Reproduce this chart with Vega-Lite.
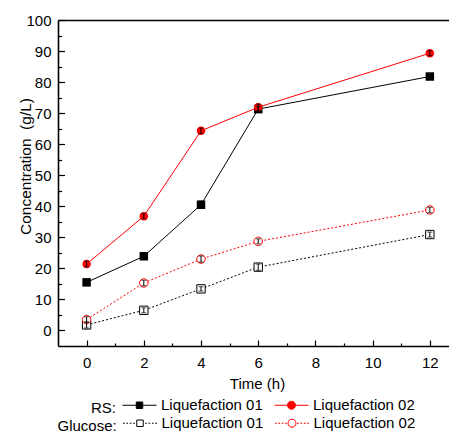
{
  "$schema": "https://vega.github.io/schema/vega-lite/v6.json",
  "width": 391,
  "height": 326,
  "autosize": "none",
  "padding": {"left": 58, "top": 20, "right": 0, "bottom": 86},
  "background": "white",
  "config": {
    "view": {"stroke": null},
    "font": "Liberation Sans",
    "axis": {"grid": false, "domainColor": "black", "tickColor": "black", "labelColor": "black", "titleColor": "black", "labelFont": "Liberation Sans", "titleFont": "Liberation Sans"},
    "legend": {"labelFont": "Liberation Sans", "titleFont": "Liberation Sans", "padding": 0}
  },
  "data": {
    "values": [
      {"type": "RS", "series": "Liquefaction 01", "time": 0, "value": 15.5, "err": 0.8},
      {"type": "RS", "series": "Liquefaction 01", "time": 2, "value": 23.9, "err": 0.8},
      {"type": "RS", "series": "Liquefaction 01", "time": 4, "value": 40.5, "err": 1.2},
      {"type": "RS", "series": "Liquefaction 01", "time": 6, "value": 71.3, "err": 0.9},
      {"type": "RS", "series": "Liquefaction 01", "time": 12, "value": 81.8, "err": 0.9},
      {"type": "RS", "series": "Liquefaction 02", "time": 0, "value": 21.4, "err": 0.9},
      {"type": "RS", "series": "Liquefaction 02", "time": 2, "value": 36.8, "err": 0.8},
      {"type": "RS", "series": "Liquefaction 02", "time": 4, "value": 64.3, "err": 0.9},
      {"type": "RS", "series": "Liquefaction 02", "time": 6, "value": 71.9, "err": 1.0},
      {"type": "RS", "series": "Liquefaction 02", "time": 12, "value": 89.3, "err": 0.8},
      {"type": "Glucose", "series": "Liquefaction 01", "time": 0, "value": 1.8, "err": 1.0},
      {"type": "Glucose", "series": "Liquefaction 01", "time": 2, "value": 6.5, "err": 0.8},
      {"type": "Glucose", "series": "Liquefaction 01", "time": 4, "value": 13.4, "err": 0.7},
      {"type": "Glucose", "series": "Liquefaction 01", "time": 6, "value": 20.4, "err": 1.0},
      {"type": "Glucose", "series": "Liquefaction 01", "time": 12, "value": 30.9, "err": 0.8},
      {"type": "Glucose", "series": "Liquefaction 02", "time": 0, "value": 3.5, "err": 0.9},
      {"type": "Glucose", "series": "Liquefaction 02", "time": 2, "value": 15.3, "err": 0.9},
      {"type": "Glucose", "series": "Liquefaction 02", "time": 4, "value": 23.0, "err": 1.0},
      {"type": "Glucose", "series": "Liquefaction 02", "time": 6, "value": 28.7, "err": 0.8},
      {"type": "Glucose", "series": "Liquefaction 02", "time": 12, "value": 38.8, "err": 0.9}
    ]
  },
  "layer": [
    {
      "mark": {"type": "point", "opacity": 0},
      "encoding": {
        "x": {"field": "time", "type": "quantitative", "scale": {"domain": [-1, 12.67], "nice": false, "zero": false},
          "axis": {"orient": "bottom", "values": [1, 3, 5, 7, 9, 11], "tickSize": -3, "tickWidth": 1.2, "labels": false, "domain": false, "title": null}},
        "y": {"field": "value", "type": "quantitative", "scale": {"domain": [-5, 100], "nice": false, "zero": false},
          "axis": {"orient": "left", "values": [5, 15, 25, 35, 45, 55, 65, 75, 85, 95], "tickSize": -3.5, "tickWidth": 1.2, "labels": false, "domain": false, "title": null}}
      }
    },
    {
      "mark": {"type": "point", "opacity": 0},
      "encoding": {
        "x": {"field": "time", "type": "quantitative",
          "axis": {"orient": "top", "domain": true, "domainWidth": 1.6, "ticks": false, "labels": false, "title": null}},
        "y": {"field": "value", "type": "quantitative", "axis": null}
      }
    },
    {
      "mark": {"type": "point", "opacity": 0},
      "encoding": {
        "x": {"field": "time", "type": "quantitative",
          "axis": {"orient": "bottom", "values": [0, 2, 4, 6, 8, 10, 12], "format": "d", "tickSize": -6, "tickWidth": 1.2, "domainWidth": 1.6,
            "labelFontSize": 15, "labelPadding": 15.5, "title": "Time (h)", "titleFontSize": 15, "titleFontWeight": "normal",
            "titleX": 199, "titleY": 30}},
        "y": {"field": "value", "type": "quantitative",
          "axis": {"orient": "left", "values": [0, 10, 20, 30, 40, 50, 60, 70, 80, 90, 100], "format": "d", "tickSize": -6.5, "tickWidth": 1.2, "domainWidth": 1.6,
            "labelFontSize": 15, "labelPadding": 13.5, "title": "Concentration\u00a0 (g/L)", "titleFontSize": 15.5, "titleFontWeight": "normal",
            "titleX": -27.5, "titleY": 146, "titleBaseline": "alphabetic", "titleAngle": -90, "titleAlign": "center"}}
      }
    },
    {
      "transform": [{"filter": "datum.type === 'RS' && datum.time < -100"}],
      "mark": {"type": "point", "filled": true, "opacity": 1},
      "encoding": {
        "x": {"field": "time", "type": "quantitative", "axis": null},
        "y": {"field": "value", "type": "quantitative", "axis": null},
        "stroke": {"field": "series", "type": "nominal",
          "scale": {"domain": ["Liquefaction 01", "Liquefaction 02"], "range": ["black", "red"]},
          "legend": {
            "title": "RS:", "orient": "none", "legendX": 33, "legendY": 367.5,
            "direction": "horizontal", "titleOrient": "left", "titleFontSize": 15, "titleFontWeight": "normal",
            "titleColor": "black", "titlePadding": 5, "titleBaseline": "top",
            "labelFontSize": 15, "labelColor": "black", "labelOffset": 4, "labelBaseline": "middle",
            "columnPadding": 9, "symbolSize": 1156, "symbolStrokeWidth": 1, "symbolOpacity": 1
          }},
        "fill": {"field": "series", "type": "nominal",
          "scale": {"domain": ["Liquefaction 01", "Liquefaction 02"], "range": ["black", "red"]}},
        "shape": {"field": "series", "type": "nominal",
          "scale": {"domain": ["Liquefaction 01", "Liquefaction 02"],
            "range": ["M-1,0H-0.19M0.19,0H1M-0.19,-0.19H0.19V0.19H-0.19Z", "M-1,0H-0.235M0.235,0H1M-0.235,0A0.235,0.235,0,1,1,0.235,0A0.235,0.235,0,1,1,-0.235,0Z"]}}
      }
    },
    {
      "transform": [{"filter": "datum.type === 'Glucose' && datum.time < -100"}],
      "mark": {"type": "point", "filled": true, "opacity": 1},
      "encoding": {
        "x": {"field": "time", "type": "quantitative", "axis": null},
        "y": {"field": "value", "type": "quantitative", "axis": null},
        "stroke": {"field": "series", "type": "nominal",
          "scale": {"domain": ["Liquefaction 01", "Liquefaction 02"], "range": ["black", "red"]},
          "legend": {
            "title": "Glucose:", "orient": "none", "legendX": -0.5, "legendY": 385.5,
            "direction": "horizontal", "titleOrient": "left", "titleFontSize": 15, "titleFontWeight": "normal",
            "titleColor": "black", "titlePadding": 5, "titleBaseline": "top",
            "labelFontSize": 15, "labelColor": "black", "labelOffset": 4, "labelBaseline": "middle",
            "columnPadding": 9, "symbolSize": 1156, "symbolStrokeWidth": 1, "symbolOpacity": 1
          }},
        "fill": {"field": "series", "type": "nominal",
          "scale": {"domain": ["Liquefaction 01", "Liquefaction 02"], "range": ["white", "white"]}},
        "shape": {"field": "series", "type": "nominal",
          "scale": {"domain": ["Liquefaction 01", "Liquefaction 02"],
            "range": ["M-1,0H-0.9M-0.8,0H-0.7M-0.6,0H-0.5M-0.4,0H-0.3M0.3,0H0.4M0.5,0H0.6M0.7,0H0.8M0.9,0H1M-0.19,-0.19H0.19V0.19H-0.19Z", "M-1,0H-0.9M-0.8,0H-0.7M-0.6,0H-0.5M-0.4,0H-0.3M0.3,0H0.4M0.5,0H0.6M0.7,0H0.8M0.9,0H1M-0.235,0A0.235,0.235,0,1,1,0.235,0A0.235,0.235,0,1,1,-0.235,0Z"]}}
      }
    },
    {
      "transform": [{"filter": "datum.type === 'Glucose' && datum.series === 'Liquefaction 01'"}],
      "mark": {"type": "line", "strokeWidth": 1, "strokeDash": [2, 2], "color": "black"},
      "encoding": {"x": {"field": "time", "type": "quantitative", "axis": null}, "y": {"field": "value", "type": "quantitative", "axis": null}}
    },
    {
      "transform": [{"filter": "datum.type === 'Glucose' && datum.series === 'Liquefaction 02'"}],
      "mark": {"type": "line", "strokeWidth": 1, "strokeDash": [2, 2], "color": "red"},
      "encoding": {"x": {"field": "time", "type": "quantitative", "axis": null}, "y": {"field": "value", "type": "quantitative", "axis": null}}
    },
    {
      "transform": [{"filter": "datum.type === 'RS' && datum.series === 'Liquefaction 01'"}],
      "mark": {"type": "line", "strokeWidth": 1, "color": "black"},
      "encoding": {"x": {"field": "time", "type": "quantitative", "axis": null}, "y": {"field": "value", "type": "quantitative", "axis": null}}
    },
    {
      "transform": [{"filter": "datum.type === 'RS' && datum.series === 'Liquefaction 02'"}],
      "mark": {"type": "line", "strokeWidth": 1, "color": "red"},
      "encoding": {"x": {"field": "time", "type": "quantitative", "axis": null}, "y": {"field": "value", "type": "quantitative", "axis": null}}
    },
    {
      "transform": [{"filter": "datum.type === 'Glucose' && datum.series === 'Liquefaction 01'"}],
      "mark": {"type": "point", "shape": "square", "size": 70, "filled": false, "fill": "white", "stroke": "black", "strokeWidth": 1, "opacity": 1},
      "encoding": {"x": {"field": "time", "type": "quantitative", "axis": null}, "y": {"field": "value", "type": "quantitative", "axis": null}}
    },
    {
      "transform": [{"filter": "datum.type === 'Glucose' && datum.series === 'Liquefaction 02'"}],
      "mark": {"type": "point", "shape": "circle", "size": 72, "filled": false, "fill": "white", "stroke": "red", "strokeWidth": 1, "opacity": 1},
      "encoding": {"x": {"field": "time", "type": "quantitative", "axis": null}, "y": {"field": "value", "type": "quantitative", "axis": null}}
    },
    {
      "transform": [{"filter": "datum.type === 'RS' && datum.series === 'Liquefaction 01'"}],
      "mark": {"type": "point", "shape": "square", "size": 72, "filled": true, "color": "black", "opacity": 1},
      "encoding": {"x": {"field": "time", "type": "quantitative", "axis": null}, "y": {"field": "value", "type": "quantitative", "axis": null}}
    },
    {
      "transform": [{"filter": "datum.type === 'RS' && datum.series === 'Liquefaction 02'"}],
      "mark": {"type": "point", "shape": "circle", "size": 72, "filled": true, "color": "red", "opacity": 1},
      "encoding": {"x": {"field": "time", "type": "quantitative", "axis": null}, "y": {"field": "value", "type": "quantitative", "axis": null}}
    },
    {
      "mark": {"type": "errorbar", "ticks": true, "color": "black", "thickness": 1},
      "encoding": {
        "x": {"field": "time", "type": "quantitative", "axis": null},
        "y": {"field": "value", "type": "quantitative", "axis": null},
        "yError": {"field": "err"}
      }
    }
  ],
  "resolve": {
    "scale": {"stroke": "independent", "fill": "independent", "shape": "independent"},
    "axis": {"x": "independent", "y": "independent"},
    "legend": {"stroke": "independent", "fill": "independent", "shape": "independent"}
  }
}
